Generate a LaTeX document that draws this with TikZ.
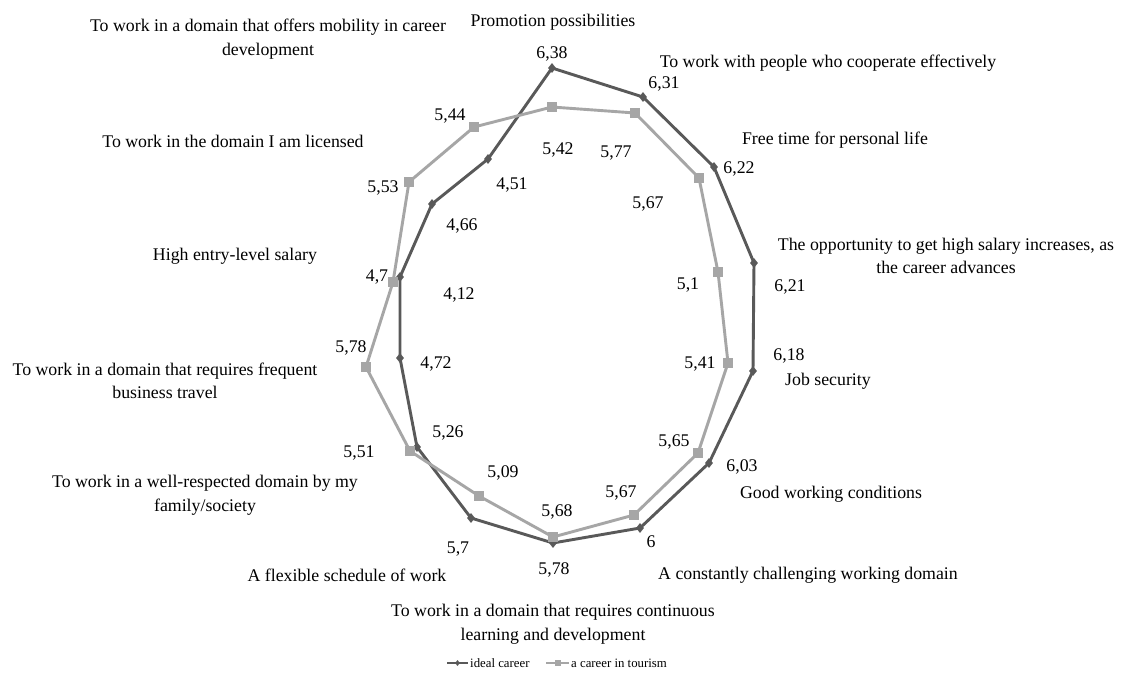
\documentclass[tikz,border=0pt]{standalone}
\usepackage{fontspec}
\setmainfont{Liberation Serif}
\usetikzlibrary{positioning,shapes.geometric}
\colorlet{idealgray}{black!65}
\colorlet{tourgray}{black!35}
\tikzstyle{ideal_line}=[line width=2.9pt, idealgray, line join=round]
\tikzstyle{tour_line}=[line width=2.9pt, tourgray, line join=round]
\tikzstyle{ideal_mark}=[diamond, fill=idealgray, inner sep=0pt, minimum width=8pt, minimum height=10pt]
\tikzstyle{tour_mark}=[rectangle, fill=tourgray, inner sep=0pt, minimum size=10pt]
\tikzstyle{cat_label}=[font=\fontsize{17.8}{23.5}\selectfont, align=center, inner sep=0pt]
\tikzstyle{val_label}=[font=\fontsize{17.8}{20}\selectfont, inner sep=0pt]
\tikzstyle{legend_text}=[font=\fontsize{12.8}{14}\selectfont, inner sep=0pt]

\begin{document}
\begin{tikzpicture}[x=1pt, y=-1pt]
\useasboundingbox[fill=white] (0,0) rectangle (1125,681);

% ideal career points
\coordinate (i0)  at (552,68);
\coordinate (i1)  at (643,97);
\coordinate (i2)  at (714,167);
\coordinate (i3)  at (754,263);
\coordinate (i4)  at (753,371);
\coordinate (i5)  at (709,463);
\coordinate (i6)  at (640,528);
\coordinate (i7)  at (553,543);
\coordinate (i8)  at (471,518);
\coordinate (i9)  at (417,447);
\coordinate (i10) at (400,358);
\coordinate (i11) at (400,277);
\coordinate (i12) at (432,204);
\coordinate (i13) at (488,159);
% career in tourism points
\coordinate (t0)  at (552,107);
\coordinate (t1)  at (635,113);
\coordinate (t2)  at (699,178);
\coordinate (t3)  at (718,272);
\coordinate (t4)  at (728,363);
\coordinate (t5)  at (698,453);
\coordinate (t6)  at (634,515);
\coordinate (t7)  at (553,537);
\coordinate (t8)  at (479,496);
\coordinate (t9)  at (410,451);
\coordinate (t10) at (366,367);
\coordinate (t11) at (393,282);
\coordinate (t12) at (409,182);
\coordinate (t13) at (474,127);

\draw[ideal_line] (i0) -- (i1) -- (i2) -- (i3) -- (i4) -- (i5) -- (i6) -- (i7)
    -- (i8) -- (i9) -- (i10) -- (i11) -- (i12) -- (i13) -- cycle;
\foreach \k in {0,...,13}
    \node[ideal_mark] (mi\k) at (i\k) {};

\draw[tour_line] (t0) -- (t1) -- (t2) -- (t3) -- (t4) -- (t5) -- (t6) -- (t7)
    -- (t8) -- (t9) -- (t10) -- (t11) -- (t12) -- (t13) -- cycle;
\foreach \k in {0,...,13}
    \node[tour_mark] (mt\k) at (t\k) {};

% values, ideal career
\node[val_label] (vi0)  at (552,54)  {6,38};
\node[val_label] (vi1)  at (664,84)  {6,31};
\node[val_label] (vi2)  at (739,169) {6,22};
\node[val_label] (vi3)  at (790,287) {6,21};
\node[val_label] (vi4)  at (789,356) {6,18};
\node[val_label] (vi5)  at (742,467) {6,03};
\node[val_label] (vi6)  at (651,542) {6};
\node[val_label] (vi7)  at (554,570) {5,78};
\node[val_label] (vi8)  at (458,549) {5,7};
\node[val_label] (vi9)  at (448,433) {5,26};
\node[val_label] (vi10) at (436,364) {4,72};
\node[val_label] (vi11) at (377,277) {4,7};
\node[val_label] (vi12) at (462,226) {4,66};
\node[val_label] (vi13) at (512,185) {4,51};
% values, career in tourism
\node[val_label] (vt0)  at (558,150) {5,42};
\node[val_label] (vt1)  at (616,153) {5,77};
\node[val_label] (vt2)  at (648,204) {5,67};
\node[val_label] (vt3)  at (688,285) {5,1};
\node[val_label] (vt4)  at (700,364) {5,41};
\node[val_label] (vt5)  at (674,442) {5,65};
\node[val_label] (vt6)  at (621,493) {5,67};
\node[val_label] (vt7)  at (557,512) {5,68};
\node[val_label] (vt8)  at (503,473) {5,09};
\node[val_label] (vt9)  at (359,453) {5,51};
\node[val_label] (vt10) at (351,348) {5,78};
\node[val_label] (vt11) at (459,295) {4,12};
\node[val_label] (vt12) at (383,188) {5,53};
\node[val_label] (vt13) at (450,116) {5,44};

% category names
\node[cat_label] (c0)  at (553,22)  {Promotion possibilities};
\node[cat_label] (c1)  at (828,63)  {To work with people who cooperate effectively};
\node[cat_label] (c2)  at (835,140) {Free time for personal life};
\node[cat_label] (c3)  at (946,256) {The opportunity to get high salary increases, as\\the career advances};
\node[cat_label] (c4)  at (828,381) {Job security};
\node[cat_label] (c5)  at (831,494) {Good working conditions};
\node[cat_label] (c6)  at (808,575) {A constantly challenging working domain};
\node[cat_label] (c7)  at (553,624) {To work in a domain that requires continuous\\learning and development};
\node[cat_label] (c8)  at (347,575) {A flexible schedule of work};
\node[cat_label] (c9)  at (205,495) {To work in a well-respected domain by my\\family/society};
\node[cat_label] (c10) at (165,381) {To work in a domain that requires frequent\\business travel};
\node[cat_label] (c11) at (235,256) {High entry-level salary};
\node[cat_label] (c12) at (233,141) {To work in the domain I am licensed};
\node[cat_label] (c13) at (268,39)  {To work in a domain that offers mobility in career\\development};

% legend
\coordinate (lgi_a) at (447,663);
\coordinate (lgi_b) at (468,663);
\draw[ideal_line, line width=1.8pt] (lgi_a) -- (lgi_b);
\node[ideal_mark, minimum width=5pt, minimum height=6pt] (lgi_m) at (457.5,663) {};
\node[legend_text, right=2pt of lgi_b] (lgi_t) {ideal career};
\coordinate (lgt_a) at (546,663);
\coordinate (lgt_b) at (569,663);
\draw[tour_line, line width=1.8pt] (lgt_a) -- (lgt_b);
\node[tour_mark, minimum size=6pt] (lgt_m) at (557.5,663) {};
\node[legend_text, right=2pt of lgt_b] (lgt_t) {a career in tourism};

\end{tikzpicture}
\end{document}
